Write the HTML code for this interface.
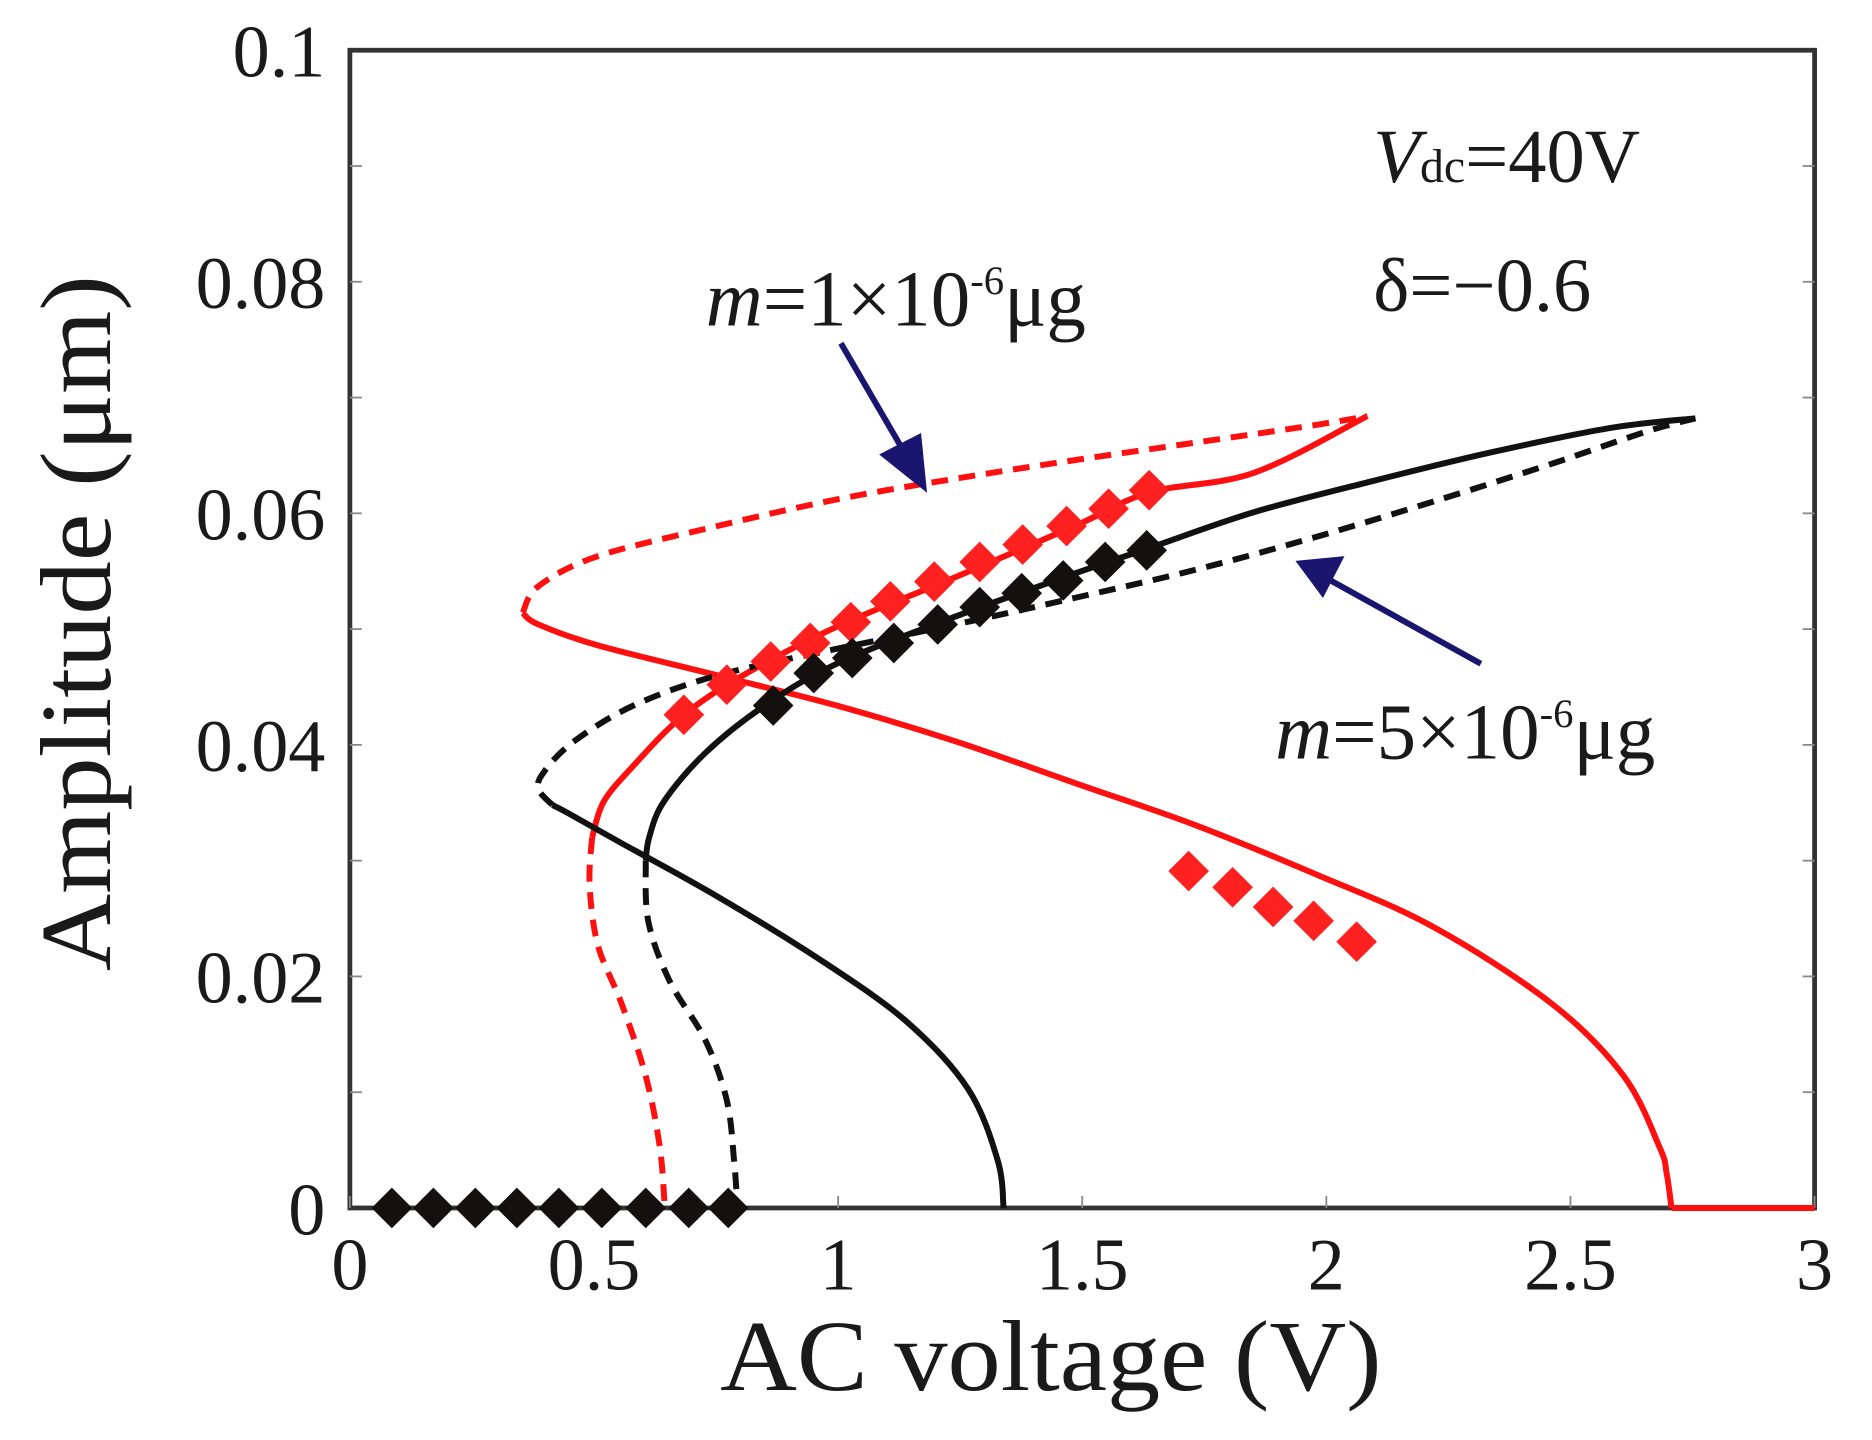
<!DOCTYPE html>
<html><head><meta charset="utf-8"><style>
html,body{margin:0;padding:0;background:#fff;}
svg{display:block;}
text{font-family:"Liberation Serif",serif;fill:#1a1a1a;}
</style></head><body>
<svg id="chart" width="1872" height="1440" viewBox="0 0 1565 1204" preserveAspectRatio="none" xmlns="http://www.w3.org/2000/svg">
<g id="frame"></g>
<g id="series"></g>
<g id="marks"></g>
<g id="labels"></g>
</svg>
<script>
const xTicks = [0, 0.5, 1, 1.5, 2, 2.5, 3];
const xTickLabels = ["0", "0.5", "1", "1.5", "2", "2.5", "3"];
const yTicks = [0, 0.02, 0.04, 0.06, 0.08, 0.1];
const yTickLabels = ["0", "0.02", "0.04", "0.06", "0.08", "0.1"];

const redFlat = [[3.0,0],[2.707,0]];
const redLowerSolid = [[2.707,0],[2.697,0.0030],[2.683,0.0052],[2.609,0.0114],[2.463,0.0176],[2.218,0.0243],[1.974,0.0289],[1.730,0.0331],[1.485,0.0367],[1.241,0.0403],[0.997,0.0434],[0.753,0.0460],[0.508,0.0486],[0.386,0.0504],[0.354,0.0514]];
const redUpperDashed = [[0.354,0.0514],[0.386,0.0537],[0.508,0.0563],[0.753,0.0589],[0.997,0.0612],[1.241,0.0630],[1.485,0.0646],[1.730,0.0661],[1.974,0.0676],[2.084,0.0684]];
const redBackSolid = [[2.084,0.0684],[1.852,0.0635],[1.637,0.0618],[1.485,0.0589],[1.241,0.0545],[0.997,0.0502],[0.801,0.0459],[0.679,0.0424],[0.581,0.0382],[0.520,0.0351],[0.496,0.0320]];
const redLowerDashed = [[0.496,0.0320],[0.491,0.0279],[0.508,0.0227],[0.557,0.0176],[0.606,0.0114],[0.635,0.0052],[0.645,0]];

const blackLowerSolid = [[1.339,0],[1.327,0.0041],[1.266,0.0103],[1.143,0.0160],[0.972,0.0212],[0.753,0.0269],[0.557,0.0315],[0.447,0.0341],[0.415,0.0348]];
const blackUpperDashed = [[0.415,0.0348],[0.386,0.0362],[0.398,0.0377],[0.459,0.0403],[0.581,0.0434],[0.753,0.0460],[0.997,0.0483],[1.241,0.0504],[1.485,0.0527],[1.730,0.0551],[1.974,0.0579],[2.218,0.0610],[2.463,0.0643],[2.658,0.0671],[2.756,0.0682]];
const blackBackSolid = [[2.756,0.0682],[2.585,0.0674],[2.341,0.0653],[2.096,0.0628],[1.852,0.0601],[1.637,0.0570],[1.485,0.0548],[1.241,0.0511],[0.997,0.0470],[0.850,0.0434],[0.728,0.0393],[0.643,0.0351],[0.613,0.0320],[0.606,0.0300]];
const blackLowerDashed = [[0.606,0.0300],[0.611,0.0248],[0.655,0.0196],[0.728,0.0145],[0.772,0.0093],[0.787,0.0041],[0.794,0]];

const redDiamondV = [0.684,0.772,0.862,0.943,1.026,1.107,1.197,1.290,1.378,1.468,1.554,1.637,1.718,1.808,1.891,1.974,2.062];
const redDiamondA = [0.0426,0.0452,0.0472,0.0488,0.0506,0.0524,0.0541,0.0558,0.0573,0.0589,0.0604,0.0620,0.0291,0.0277,0.0260,0.0248,0.0230];
const blackDiamondV = [0.086,0.171,0.257,0.342,0.428,0.516,0.606,0.694,0.775,0.867,0.950,1.029,1.114,1.204,1.290,1.376,1.461,1.547,1.632];
const blackDiamondA = [0,0,0,0,0,0,0,0,0,0.0434,0.0462,0.0475,0.0488,0.0504,0.0519,0.0531,0.0542,0.0558,0.0568];

const X0=292.5, X1=1517, Y0=1010, Y1=42;
function sx(v){return X0 + v/3*(X1-X0);}
function sy(a){return Y0 - a/0.1*(Y0-Y1);}
const NS="http://www.w3.org/2000/svg";
function mk(tag, parent, attrs){const e=document.createElementNS(NS,tag);for(const k in attrs)e.setAttribute(k,attrs[k]);document.getElementById(parent).appendChild(e);return e;}

function smoothPath(pts){
  const p = pts.map(q=>[sx(q[0]), sy(q[1])]);
  let d = 'M'+p[0][0].toFixed(1)+','+p[0][1].toFixed(1);
  for(let i=0;i<p.length-1;i++){
    const p0=p[Math.max(i-1,0)], p1=p[i], p2=p[i+1], p3=p[Math.min(i+2,p.length-1)];
    const c1=[p1[0]+(p2[0]-p0[0])/6, p1[1]+(p2[1]-p0[1])/6];
    const c2=[p2[0]-(p3[0]-p1[0])/6, p2[1]-(p3[1]-p1[1])/6];
    d += ' C'+c1[0].toFixed(1)+','+c1[1].toFixed(1)+' '+c2[0].toFixed(1)+','+c2[1].toFixed(1)+' '+p2[0].toFixed(1)+','+p2[1].toFixed(1);
  }
  return d;
}
function drawLine(pts, color, dashed, name){
  const e = mk('path','series',{d:smoothPath(pts),fill:'none',stroke:color,'stroke-width':5,'stroke-linejoin':'round','stroke-linecap':'butt'});
  if(dashed) e.setAttribute('stroke-dasharray','14 9');
  
  
}
drawLine(redFlat,'#ff1010',false,'red-zero-branch');
drawLine(redLowerSolid,'#ff1010',false,'red-lower-solid-branch');
drawLine(redUpperDashed,'#ff1010',true,'red-upper-dashed-branch');
drawLine(redBackSolid,'#ff1010',false,'red-back-solid-branch');
drawLine(redLowerDashed,'#ff1010',true,'red-lower-dashed-branch');
drawLine(blackLowerSolid,'#111',false,'black-lower-solid-branch');
drawLine(blackUpperDashed,'#111',true,'black-upper-dashed-branch');
drawLine(blackBackSolid,'#111',false,'black-back-solid-branch');
drawLine(blackLowerDashed,'#111',true,'black-lower-dashed-branch');

function diamond(v,a,color,name){
  const x=sx(v), y=sy(a), r=17;
  const e = mk('polygon','marks',{points:`${x},${y-r} ${x+r},${y} ${x},${y+r} ${x-r},${y}`,fill:color});
  
  
}
redDiamondV.forEach((v,i)=>diamond(v,redDiamondA[i],'#ff2020','red-experiment-point'));
blackDiamondV.forEach((v,i)=>diamond(v,blackDiamondA[i],'#151010','black-experiment-point'));

const fr = mk('rect','frame',{x:X0,y:Y1,width:X1-X0,height:Y0-Y1,fill:'none',stroke:'#333','stroke-width':4});


for(let k=1;k<10;k++){
  const y=sy(k*0.01);
  const t1=mk('line','frame',{x1:X0,x2:X0+10,y1:y,y2:y,stroke:'#888','stroke-width':1.5});
  
  
  const t2=mk('line','frame',{x1:X1,x2:X1-10,y1:y,y2:y,stroke:'#888','stroke-width':1.5});
  
  
}
xTicks.forEach((v,i)=>{
  const x=sx(v);
  const t=mk('line','frame',{x1:x,x2:x,y1:Y0,y2:Y0-10,stroke:'#888','stroke-width':1.5});
  
  
  const l=mk('text','labels',{x:x,y:1078,'font-size':62,'text-anchor':'middle'});
  l.textContent=xTickLabels[i];
  
  
});
yTicks.forEach((a,i)=>{
  const l=mk('text','labels',{x:272,y:sy(a)+22,'font-size':62,'text-anchor':'end'});
  l.textContent=yTickLabels[i];
  
  
});
document.getElementById('labels').insertAdjacentHTML('beforeend',
 '<text x="602" y="1162" font-size="84" textLength="553" lengthAdjust="spacingAndGlyphs">AC voltage (V)</text>'+
 '<text transform="translate(92,812) rotate(-90)" font-size="84" textLength="582" lengthAdjust="spacingAndGlyphs">Amplitude (μm)</text>'+
 '<text x="1148" y="152" font-size="64"><tspan font-style="italic">V</tspan><tspan font-size="40">dc</tspan>=40V</text>'+
 '<text x="1148" y="260" font-size="64">δ=−0.6</text>'+
 '<text x="590" y="272" font-size="66"><tspan font-style="italic">m</tspan>=1×10<tspan font-size="34" dy="-26">-6</tspan><tspan dy="26">μg</tspan></text>'+
 '<text x="1066" y="634" font-size="66"><tspan font-style="italic">m</tspan>=5×10<tspan font-size="34" dy="-26">-6</tspan><tspan dy="26">μg</tspan></text>'+
 '<g><line x1="703" y1="287" x2="760" y2="385" stroke="#1a1670" stroke-width="5"/><polygon points="775,412 735,380 770,362" fill="#1a1670"/></g>'+
 '<g><line x1="1238" y1="555" x2="1110" y2="484" stroke="#1a1670" stroke-width="5"/><polygon points="1083,469 1124,465 1106,500" fill="#1a1670"/></g>'
);
</script>
</body></html>
